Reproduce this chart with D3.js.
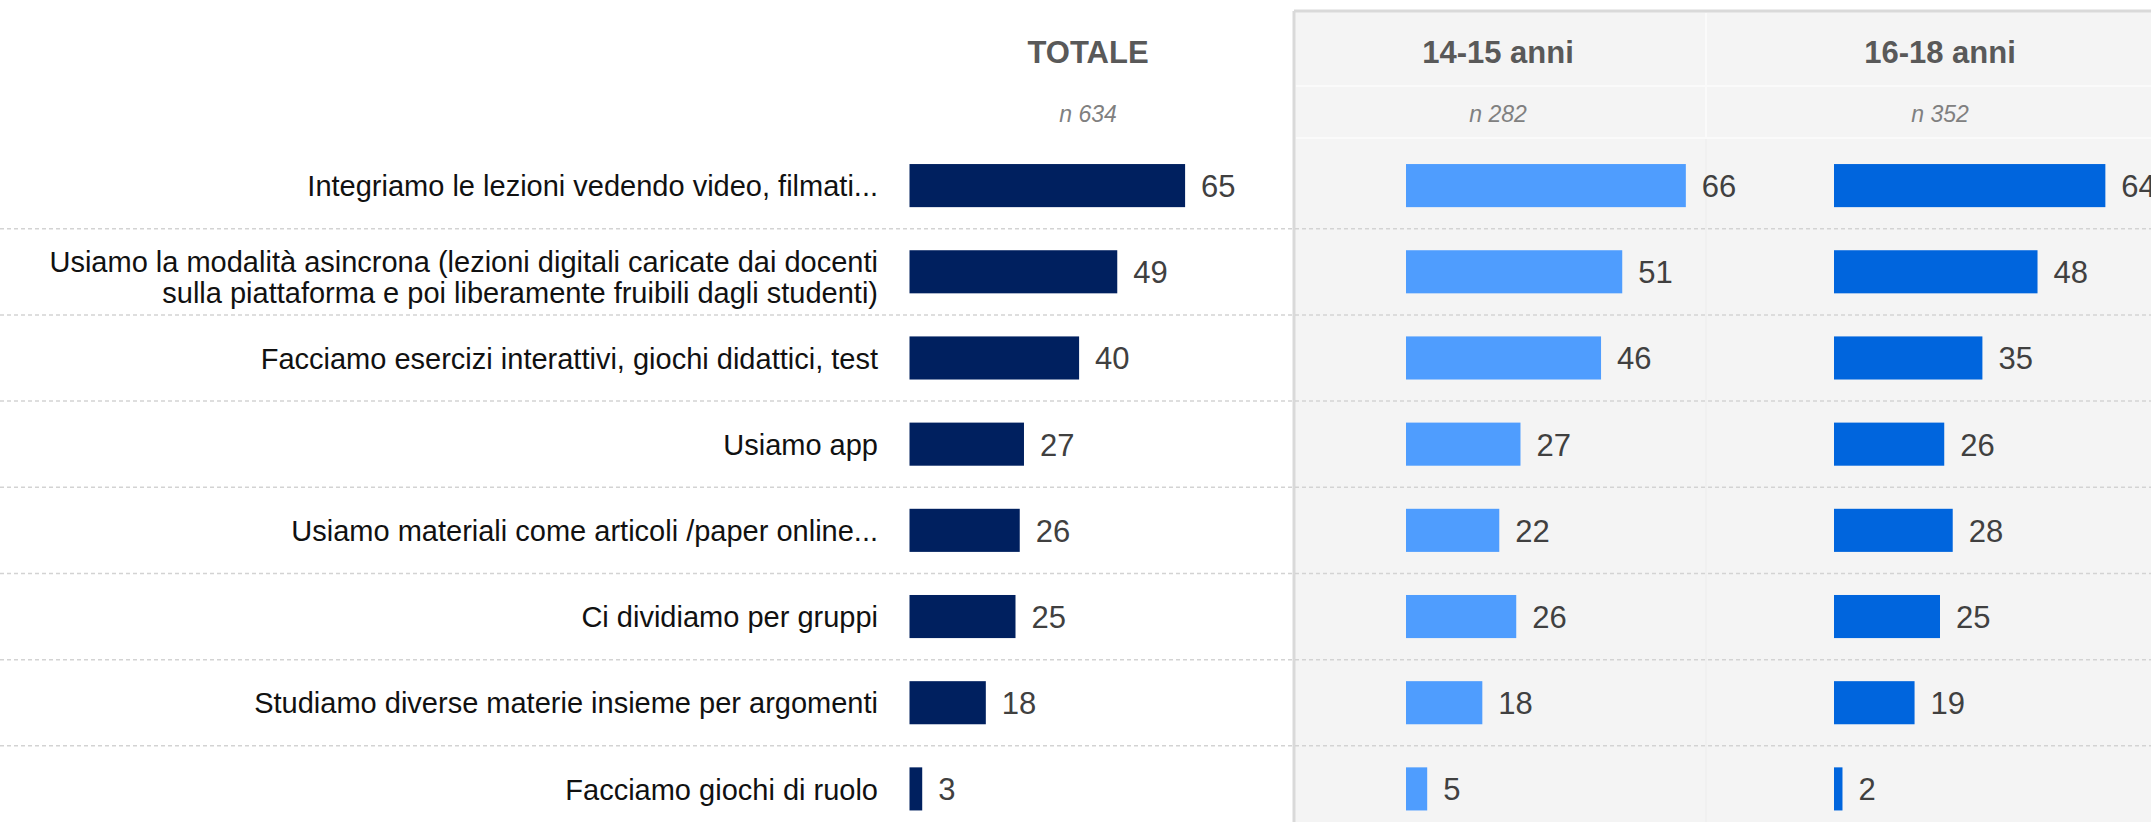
<!DOCTYPE html>
<html>
<head>
<meta charset="utf-8">
<script src="https://cdn.jsdelivr.net/npm/d3@7"></script>
<style>
  body { margin: 0; background: #fff; }
  svg { display: block; font-family: "Liberation Sans", Arial, sans-serif; }
</style>
</head>
<body>
<div id="chart"></div>
<script>
// data
var categories = [
    "Integriamo le lezioni vedendo video, filmati...",
    "Usiamo la modalità asincrona (lezioni digitali caricate dai docenti|sulla piattaforma e poi liberamente fruibili dagli studenti)",
    "Facciamo esercizi interattivi, giochi didattici, test",
    "Usiamo app",
    "Usiamo materiali come articoli /paper online...",
    "Ci dividiamo per gruppi",
    "Studiamo diverse materie insieme per argomenti",
    "Facciamo giochi di ruolo"
];
var groups = ["TOTALE", "14-15 anni", "16-18 anni"];
var sampleSizes = ["n 634", "n 282", "n 352"];
var totale = [65, 49, 40, 27, 26, 25, 18, 3];
var anni1415 = [66, 51, 46, 27, 22, 26, 18, 5];
var anni1618 = [64, 48, 35, 26, 28, 25, 19, 2];

var series = [totale, anni1415, anni1618];
var colors = ["#00205f", "#4f9dfe", "#0065dd"];

var width = 2151, height = 822;
var barStart = [909.5, 1406, 1834];
var headCenter = [1088, 1498, 1940];
var panelX = 1294, panelTop = 11, splitX = 1706;

var svg = d3.select("#chart").append("svg")
    .attr("width", width)
    .attr("height", height);

var y = d3.scaleBand()
    .domain(d3.range(categories.length))
    .range([142.5, 832])
    .paddingInner(0.5)
    .paddingOuter(0.25);

var x = d3.scaleLinear()
    .domain([0, 100])
    .range([0, 424]);

// grey panel for the age groups
svg.append("rect")
    .attr("x", panelX)
    .attr("y", panelTop)
    .attr("width", width - panelX)
    .attr("height", height - panelTop)
    .style("fill", "#f4f4f4");

svg.append("line")
    .attr("x1", panelX).attr("x2", width)
    .attr("y1", panelTop).attr("y2", panelTop)
    .style("stroke", "#d9d9d9").style("stroke-width", 3);
svg.append("line")
    .attr("x1", panelX).attr("x2", panelX)
    .attr("y1", panelTop).attr("y2", height)
    .style("stroke", "#d9d9d9").style("stroke-width", 3);

// header separators inside panel
svg.selectAll(".hsep")
    .data([86, 138])
    .join("line")
    .attr("class", "hsep")
    .attr("x1", panelX + 2).attr("x2", width)
    .attr("y1", d => d).attr("y2", d => d)
    .style("stroke", "#fafafa").style("stroke-width", 2);

svg.append("line")
    .attr("x1", splitX).attr("x2", splitX)
    .attr("y1", panelTop + 2).attr("y2", 138)
    .style("stroke", "#fafafa").style("stroke-width", 2);
svg.append("line")
    .attr("x1", splitX).attr("x2", splitX)
    .attr("y1", 139).attr("y2", height)
    .style("stroke", "#ececec").style("stroke-width", 1);

// dashed row separators
var step = y.step();
svg.selectAll(".rowsep")
    .data(d3.range(1, categories.length))
    .join("line")
    .attr("class", "rowsep")
    .attr("x1", 0).attr("x2", width)
    .attr("y1", d => y(d) - step * 0.25)
    .attr("y2", d => y(d) - step * 0.25)
    .style("stroke", "#d3d3d3")
    .style("stroke-width", 1.5)
    .style("stroke-dasharray", "4,3");

// headers
svg.selectAll(".head")
    .data(groups)
    .join("text")
    .attr("class", "head")
    .attr("x", (d, i) => headCenter[i])
    .attr("y", 63)
    .attr("text-anchor", "middle")
    .style("font-size", "31px")
    .style("font-weight", "bold")
    .style("fill", "#595959")
    .text(d => d);

svg.selectAll(".nsize")
    .data(sampleSizes)
    .join("text")
    .attr("class", "nsize")
    .attr("x", (d, i) => headCenter[i])
    .attr("y", 122)
    .attr("text-anchor", "middle")
    .style("font-size", "23px")
    .style("font-style", "italic")
    .style("fill", "#808080")
    .text(d => d);

// category labels
var labels = svg.selectAll(".cat")
    .data(categories)
    .join("text")
    .attr("class", "cat")
    .attr("text-anchor", "end")
    .style("font-size", "29px")
    .style("fill", "#111");

labels.each(function (d, i) {
    var lines = d.split("|");
    var cy = y(i) + y.bandwidth() / 2;
    var off = lines.length > 1 ? 10.5 : 0;
    d3.select(this).selectAll("tspan")
        .data(lines)
        .join("tspan")
        .attr("x", 878)
        .attr("y", (l, j) => cy - off + j * 31)
        .attr("dy", "0.37em")
        .text(l => l);
});

// bars + value labels
series.forEach(function (vals, s) {
    var g = svg.append("g").attr("transform", "translate(" + barStart[s] + ",0)");
    g.selectAll("rect")
        .data(vals)
        .join("rect")
        .attr("x", 0)
        .attr("y", (d, i) => y(i))
        .attr("width", d => x(d))
        .attr("height", y.bandwidth())
        .style("fill", colors[s]);
    g.selectAll("text")
        .data(vals)
        .join("text")
        .attr("x", d => x(d) + 16)
        .attr("y", (d, i) => y(i) + y.bandwidth() / 2)
        .attr("dy", "0.37em")
        .style("font-size", "31px")
        .style("fill", "#404040")
        .text(d => d);
});
</script>
</body>
</html>
